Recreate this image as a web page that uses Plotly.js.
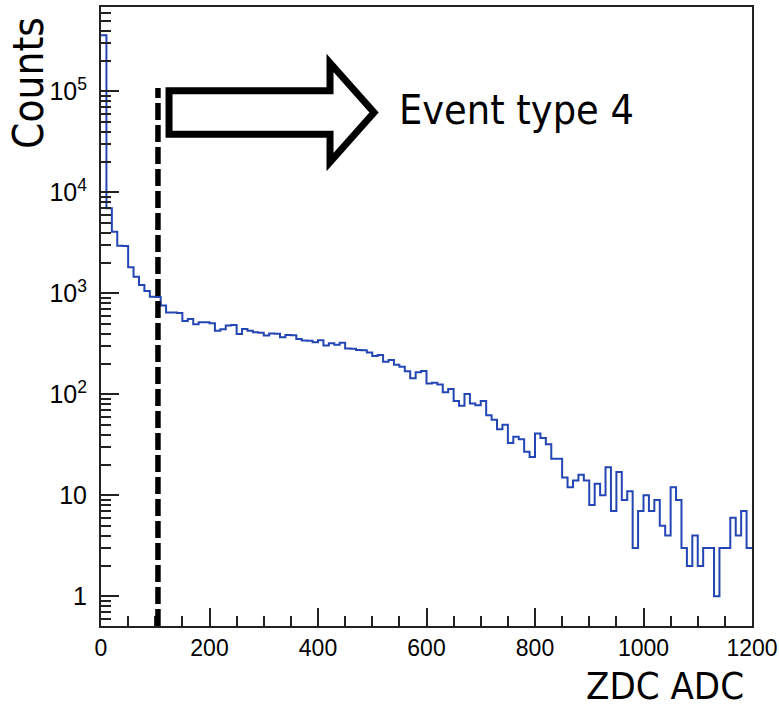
<!DOCTYPE html>
<html>
<head>
<meta charset="utf-8">
<script src="https://cdn.plot.ly/plotly-3.0.1.min.js"></script>
<style>
  html, body { margin: 0; padding: 0; background: #ffffff; }
  #chart { width: 779px; height: 710px; }
</style>
</head>
<body>
<div id="chart"></div>
<script>
// ZDC ADC spectrum: 120 bins of width 10 from 0 to 1200
const binWidth = 10;
const adcMin = 0;
const counts = [
  360000, 6950, 4070, 2960, 2940, 1810, 1460, 1210, 1054, 925,
  920, 757, 645, 645, 640, 532, 557, 493, 516, 516,
  505, 427, 441, 480, 486, 395, 444, 426, 411, 408,
  382, 400, 398, 367, 386, 385, 353, 341, 340, 327,
  343, 304, 320, 310, 324, 285, 283, 275, 273, 259,
  240, 245, 210, 219, 196, 188, 169, 144, 165, 170,
  128, 130, 125, 105, 113, 86, 77, 101, 81, 78,
  86, 62, 56, 45, 50, 33, 38, 36, 27, 24,
  41, 37, 32, 23, 23, 15, 12, 14, 16, 14,
  8, 13, 10, 19, 7, 17, 9, 11, 3, 7,
  10, 7, 9, 5, 4, 12, 9, 3, 2, 4,
  2, 3, 3, 1, 3, 3, 6, 4, 7, 3
];
const cutValue = 105;                 // event-type selection threshold
const labelText = 'Event type 4';
const xTitle = 'ZDC ADC';
const yTitle = 'Counts';

// step outline: left bin edges plus the final right edge
const edges = [];
const stepY = [];
for (let i = 0; i < counts.length; i++) {
  edges.push(adcMin + i * binWidth);
  stepY.push(counts[i]);
}
edges.push(adcMin + counts.length * binWidth);
stepY.push(counts[counts.length - 1]);

// frame geometry in page pixels
const M = { l: 101, r: 27, t: 7, b: 84 };
const PW = 779 - M.l - M.r;
const PH = 710 - M.t - M.b;
const px = v => (v - M.l) / PW;
const py = v => (710 - M.b - v) / PH;

// block arrow outline (page pixels -> paper units)
const arrowPts = [[169, 90.7], [330, 90.7], [330, 63], [374, 112.5],
                  [330, 162], [330, 134.3], [169, 134.3]];
const arrowPath = 'M ' + arrowPts.map(p => px(p[0]).toFixed(4) + ' ' + py(p[1]).toFixed(4)).join(' L ') + ' Z';

const titleFont = 'DejaVu Sans Condensed, Open Sans, sans-serif';

const trace = {
  type: 'scatter',
  mode: 'lines',
  x: edges,
  y: stepY,
  line: { shape: 'hv', color: '#2346b4', width: 2 },
  hoverinfo: 'skip'
};

const layout = {
  width: 779,
  height: 710,
  margin: M,
  paper_bgcolor: '#ffffff',
  plot_bgcolor: '#ffffff',
  showlegend: false,
  xaxis: {
    range: [0, 1200],
    tickmode: 'linear', tick0: 0, dtick: 200,
    ticks: 'inside', ticklen: 18, tickwidth: 2, tickcolor: '#222',
    minor: { dtick: 50, ticks: 'inside', ticklen: 10, tickwidth: 2, tickcolor: '#222', showgrid: false },
    showline: true, linecolor: '#222', linewidth: 2, mirror: true,
    showgrid: false, zeroline: false,
    tickfont: { family: 'Liberation Sans, Arial, sans-serif', size: 23, color: '#000' }
  },
  yaxis: {
    type: 'log',
    range: [-0.294, 5.835],
    tickmode: 'linear', tick0: 0, dtick: 1,
    exponentformat: 'power',
    ticks: 'inside', ticklen: 18, tickwidth: 2, tickcolor: '#222',
    minor: { dtick: 'D1', ticks: 'inside', ticklen: 10, tickwidth: 2, tickcolor: '#222', showgrid: false },
    showline: true, linecolor: '#222', linewidth: 2, mirror: true,
    showgrid: false, zeroline: false,
    ticklabelstandoff: 8,
    tickfont: { family: 'Liberation Sans, Arial, sans-serif', size: 20, color: '#000' }
  },
  shapes: [
    {
      type: 'line', xref: 'x', yref: 'paper',
      x0: cutValue, x1: cutValue, y0: 0, y1: py(88),
      line: { color: '#000', width: 5.5, dash: '17px,5px' }
    },
    {
      type: 'path', xref: 'paper', yref: 'paper',
      path: arrowPath,
      fillcolor: '#ffffff',
      line: { color: '#000', width: 7 }
    }
  ],
  annotations: [
    {
      text: labelText, xref: 'paper', yref: 'paper',
      x: px(397), y: py(110), xanchor: 'left', yanchor: 'middle',
      showarrow: false,
      font: { family: titleFont, size: 41, color: '#000' }
    },
    {
      text: xTitle, xref: 'paper', yref: 'paper',
      x: px(746), y: py(686), xanchor: 'right', yanchor: 'middle',
      showarrow: false,
      font: { family: titleFont, size: 38, color: '#000' }
    },
    {
      text: yTitle, xref: 'paper', yref: 'paper',
      x: px(29), y: py(83), xanchor: 'center', yanchor: 'middle',
      textangle: -90,
      showarrow: false,
      font: { family: titleFont, size: 42, color: '#000' }
    }
  ]
};

Plotly.newPlot('chart', [trace], layout, { staticPlot: true, displayModeBar: false });
</script>
</body>
</html>
